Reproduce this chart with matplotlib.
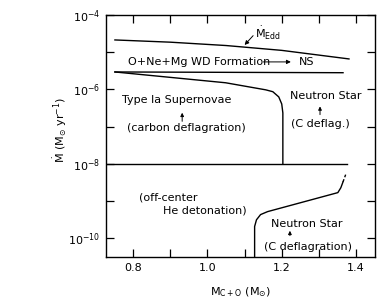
import numpy as np
import matplotlib
matplotlib.use("Agg")
import matplotlib.pyplot as plt
from matplotlib.ticker import FixedLocator, FuncFormatter

plt.rcParams['font.family'] = ['DejaVu Sans']
plt.rcParams['mathtext.fontset'] = 'dejavusans'
plt.rcParams['mathtext.default'] = 'regular'

# boundaries (x = M_C+O in Msun, y = log10 Mdot)
edd_x = [0.751, 0.90, 1.05, 1.20, 1.381]
edd_y = [-4.67, -4.73, -4.82, -4.95, -5.18]

onemg_x = [0.751, 1.365]
onemg_y = [-5.53, -5.55]

snia_x = [0.751, 1.049, 1.157, 1.176, 1.192, 1.200, 1.203, 1.203]
snia_y = [-5.53, -5.82, -6.01, -6.06, -6.20, -6.39, -6.63, -7.99]

low_x = [0.727, 1.376]
low_y = [-8.0, -8.0]

he_x = [1.127, 1.127, 1.132, 1.143, 1.162, 1.351, 1.359, 1.365]
he_y = [-10.5, -9.68, -9.50, -9.36, -9.28, -8.77, -8.64, -8.48]
he_dash_x = [1.365, 1.373]
he_dash_y = [-8.48, -8.26]

ytick_exp = [-4, -5, -6, -7, -8, -9, -10]
ylabel_exp = [-4, -6, -8, -10]
xticks_major = [0.8, 1.0, 1.2, 1.4]
xticks_minor = [0.9, 1.1, 1.3]

fig = plt.figure(figsize=(3.89, 3.06), dpi=100)
ax = fig.add_axes([0.2725, 0.160, 0.6915, 0.791])

lw = 1.0
ax.plot(edd_x, 10.0 ** np.array(edd_y), color='black', lw=lw)
ax.plot(onemg_x, 10.0 ** np.array(onemg_y), color='black', lw=lw)
ax.plot(snia_x, 10.0 ** np.array(snia_y), color='black', lw=lw)
ax.plot(low_x, 10.0 ** np.array(low_y), color='black', lw=lw)
ax.plot(he_x, 10.0 ** np.array(he_y), color='black', lw=lw)
ax.plot(he_dash_x, 10.0 ** np.array(he_dash_y), color='black', lw=lw, ls=(0, (2, 1.5)))

ax.set_yscale('log')
ax.set_xlim(0.727, 1.451)
ax.set_ylim(10 ** -10.5, 1e-4)

ax.yaxis.set_major_locator(FixedLocator([10.0 ** e for e in ytick_exp]))
ax.yaxis.set_minor_locator(FixedLocator([]))


def yfmt(v, pos):
    e = int(round(np.log10(v)))
    if e in ylabel_exp:
        return r'$10^{%d}$' % e
    return ''


ax.yaxis.set_major_formatter(FuncFormatter(yfmt))
ax.set_xticks(xticks_major)
ax.set_xticklabels(['0.8', '1.0', '1.2', '1.4'])
ax.set_xticks(xticks_minor, minor=True)
ax.tick_params(which='both', direction='in', top=True, right=True,
               length=6, width=0.9, labelsize=8, pad=4)
for s in ax.spines.values():
    s.set_linewidth(1.0)

fs = 8
ax.text(0.786, 10 ** -5.26, 'O+Ne+Mg WD Formation', fontsize=fs, va='center')
ax.annotate('', xy=(1.232, 10 ** -5.26), xytext=(1.143, 10 ** -5.26),
            arrowprops=dict(arrowstyle='-|>', color='black', lw=0.7,
                            mutation_scale=6))
ax.text(1.246, 10 ** -5.26, 'NS', fontsize=fs, va='center')

ax.text(1.128, 10 ** -4.5, r'$\dot{M}_{\rm Edd}$', fontsize=fs, va='center')
ax.annotate('', xy=(1.095, 10 ** -4.86), xytext=(1.128, 10 ** -4.5),
            arrowprops=dict(arrowstyle='-|>', color='black', lw=0.7,
                            mutation_scale=6))

ax.text(0.770, 10 ** -6.28, 'Type Ia Supernovae', fontsize=fs, va='center')
ax.annotate('', xy=(0.932, 10 ** -6.55), xytext=(0.932, 10 ** -6.93),
            arrowprops=dict(arrowstyle='-|>', color='black', lw=0.7,
                            mutation_scale=5))
ax.text(0.784, 10 ** -7.03, '(carbon deflagration)', fontsize=fs, va='center')

ax.text(1.222, 10 ** -6.17, 'Neutron Star', fontsize=fs, va='center')
ax.annotate('', xy=(1.303, 10 ** -6.38), xytext=(1.303, 10 ** -6.75),
            arrowprops=dict(arrowstyle='-|>', color='black', lw=0.7,
                            mutation_scale=5))
ax.text(1.224, 10 ** -6.92, '(C deflag.)', fontsize=fs, va='center')

ax.text(0.816, 10 ** -8.91, '(off-center', fontsize=fs, va='center')
ax.text(0.881, 10 ** -9.25, 'He detonation)', fontsize=fs, va='center')

ax.text(1.170, 10 ** -9.60, 'Neutron Star', fontsize=fs, va='center')
ax.annotate('', xy=(1.222, 10 ** -9.72), xytext=(1.222, 10 ** -10.0),
            arrowprops=dict(arrowstyle='-|>', color='black', lw=0.7,
                            mutation_scale=5))
ax.text(1.151, 10 ** -10.22, '(C deflagration)', fontsize=fs, va='center')

fig.text(60 / 389, 1 - 130 / 306, r'$\dot{M}\ (M_{\odot}\ yr^{-1})$',
         rotation=90, fontsize=fs, ha='center', va='center')
fig.text(241 / 389, 1 - 292 / 306, r'$M_{C+O}\ (M_{\odot})$',
         fontsize=fs, ha='center', va='center')

fig.savefig('out.png', dpi=100)
